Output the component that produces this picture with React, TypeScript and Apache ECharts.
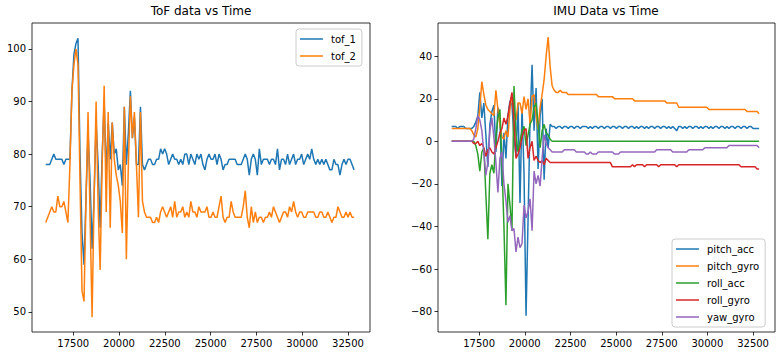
import React, { useEffect, useRef } from "react";
import * as echarts from "echarts";

const time = [
  16000, 16110, 16220, 16330, 16440, 16550, 16660, 16770, 16880, 16990,
  17100, 17210, 17320, 17430, 17540, 17650, 17760, 17870, 17980, 18090,
  18200, 18310, 18420, 18530, 18640, 18750, 18860, 18970, 19080, 19190,
  19300, 19410, 19520, 19630, 19740, 19850, 19960, 20070, 20180, 20290,
  20400, 20510, 20620, 20730, 20840, 20950, 21060, 21170, 21280, 21390,
  21500, 21610, 21720, 21830, 21940, 22050, 22160, 22270, 22380, 22490,
  22600, 22710, 22820, 22930, 23040, 23150, 23260, 23370, 23480, 23590,
  23700, 23810, 23920, 24030, 24140, 24250, 24360, 24470, 24580, 24690,
  24800, 24910, 25020, 25130, 25240, 25350, 25460, 25570, 25680, 25790,
  25900, 26010, 26120, 26230, 26340, 26450, 26560, 26670, 26780, 26890,
  27000, 27110, 27220, 27330, 27440, 27550, 27660, 27770, 27880, 27990,
  28100, 28210, 28320, 28430, 28540, 28650, 28760, 28870, 28980, 29090,
  29200, 29310, 29420, 29530, 29640, 29750, 29860, 29970, 30080, 30190,
  30300, 30410, 30520, 30630, 30740, 30850, 30960, 31070, 31180, 31290,
  31400, 31510, 31620, 31730, 31840, 31950, 32060, 32170, 32280, 32390,
  32500, 32610, 32720, 32830,
];

const tof1 = [
  78, 78, 78, 79, 80, 79, 79, 79, 79, 78,
  79, 79, 79, 92, 99, 101, 102, 80, 65, 59,
  72, 84, 75, 62, 72, 86, 78, 66, 80, 90,
  76, 86, 79, 86, 80, 81, 77, 78, 74, 89,
  78, 84, 92, 83, 87, 78, 78, 89, 78, 77,
  78, 79, 79, 78, 78, 79, 79, 81, 80, 81,
  80, 78, 79, 80, 79, 79, 78, 79, 78, 80,
  80, 78, 80, 79, 78, 80, 79, 80, 78, 77,
  79, 80, 79, 79, 80, 78, 80, 79, 77, 78,
  78, 79, 79, 79, 79, 78, 78, 78, 79, 80,
  79, 76, 79, 80, 79, 76, 81, 78, 79, 79,
  79, 78, 79, 79, 78, 81, 77, 79, 79, 78,
  80, 78, 79, 80, 78, 79, 79, 80, 78, 79,
  80, 79, 81, 79, 78, 79, 78, 79, 78, 79,
  78, 77, 77, 79, 78, 78, 76, 78, 79, 78,
  79, 79, 78, 77,
];

const tof2 = [
  67, 68, 69, 70, 69, 69, 72, 70, 70, 71,
  69, 67, 78, 92, 97, 100, 97, 75, 54, 52,
  72, 88, 68, 49, 72, 90, 70, 58, 78, 93,
  69, 88, 66, 86, 79, 76, 74, 71, 65, 89,
  60, 78, 91, 83, 88, 78, 68, 88, 71, 69,
  68, 68, 68, 67, 67, 68, 67, 69, 70, 69,
  68, 69, 70, 68, 71, 68, 69, 69, 70, 68,
  69, 68, 71, 69, 69, 68, 70, 69, 69, 69,
  70, 68, 68, 69, 68, 68, 70, 72, 68, 67,
  68, 68, 71, 69, 68, 68, 68, 68, 70, 73,
  68, 66, 70, 67, 69, 67, 68, 68, 67, 68,
  68, 69, 68, 70, 69, 68, 67, 68, 69, 69,
  68, 70, 69, 71, 69, 68, 69, 69, 68, 68,
  69, 69, 69, 69, 68, 68, 69, 69, 68, 68,
  69, 68, 67, 68, 68, 70, 69, 68, 68, 69,
  68, 69, 68, 68,
];

const pitchAcc = [
  7, 7, 7, 6, 7, 7, 7, 6, 6, 6,
  6, 7, 9, 12, 23, 11, 18, 3, -12, 8,
  14, 17, -5, 16, 10, -21, 4, -8, 12, 19,
  17, 2, -7, 18, -29, 16, -15, -82, -37, 10,
  36, 5, 25, -13, 12, 20, -18, 6, -3, 8,
  7, 7, 6, 7, 7, 6, 7, 7, 6, 7,
  7, 6, 7, 7, 6, 7, 7, 7, 6, 7,
  6, 7, 7, 6, 7, 7, 6, 7, 7, 6,
  7, 7, 6, 7, 7, 6, 7, 7, 6, 7,
  7, 6, 7, 6, 7, 7, 6, 7, 6, 7,
  7, 6, 7, 7, 6, 7, 7, 6, 7, 6,
  7, 6, 5, 7, 7, 6, 7, 6, 7, 7,
  6, 7, 7, 6, 7, 6, 7, 7, 6, 7,
  6, 7, 7, 6, 7, 7, 6, 7, 6, 7,
  7, 6, 7, 7, 6, 7, 7, 6, 7, 7,
  6, 6, 6, 6,
];

const pitchGyro = [
  6, 6, 6, 6, 6, 6, 6, 6, 6, 6,
  5, 3, 2, 6, 16, 28, 22, 17, 15, 14,
  13, 12, 24, 15, 8, 2, 1, 5, 2, 15,
  22, 14, 10, 18, 18, 13, 21, 15, 20, 8,
  21, 22, 12, 6, 16, 22, 29, 40, 49, 35,
  26, 24, 23, 23, 24, 23, 23, 23, 22, 22,
  22, 22, 22, 22, 22, 22, 22, 22, 22, 22,
  22, 22, 22, 21, 21, 21, 21, 21, 21, 21,
  21, 20, 20, 20, 20, 20, 20, 20, 20, 20,
  20, 19, 19, 19, 19, 19, 19, 19, 19, 19,
  19, 19, 19, 19, 19, 19, 19, 18, 18, 18,
  18, 18, 18, 16, 16, 16, 16, 16, 16, 16,
  16, 16, 16, 16, 16, 16, 16, 16, 15, 15,
  15, 15, 15, 15, 15, 15, 15, 15, 15, 15,
  15, 15, 15, 15, 15, 15, 15, 14, 14, 14,
  14, 14, 14, 13,
];

const rollAcc = [
  0, 0, 0, 0, 0, 0, 0, 0, 0, 0,
  0, 0, -2, -6, -14, -5, -3, -25, -46, -15,
  -11, -15, 2, 11, 15, -10, -40, -77, -20, -30,
  -42, 26, 3, -5, 0, 5, 7, -2, 3, 8,
  10, 16, 18, 8, -3, 5, 8, 4, 3, 1,
  0, 0, 0, 0, 0, 0, 0, 0, 0, 0,
  0, 0, 0, 0, 0, 0, 0, 0, 0, 0,
  0, 0, 0, 0, 0, 0, 0, 0, 0, 0,
  0, 0, 0, 0, 0, 0, 0, 0, 0, 0,
  0, 0, 0, 0, 0, 0, 0, 0, 0, 0,
  0, 0, 0, 0, 0, 0, 0, 0, 0, 0,
  0, 0, 0, 0, 0, 0, 0, 0, 0, 0,
  0, 0, 0, 0, 0, 0, 0, 0, 0, 0,
  0, 0, 0, 0, 0, 0, 0, 0, 0, 0,
  0, 0, 0, 0, 0, 0, 0, 0, 0, 0,
  0, 0, 0, 0,
];

const rollGyro = [
  0, 0, 0, 0, 0, 0, 0, 0, 0, 0,
  0, -1, -1, 0, -2, -1, -3, -7, -4, -3,
  -5, -6, -3, 0, 4, 6, 11, 8, 12, 18,
  23, 10, -8, -6, -3, 2, 5, 6, -8, -3,
  0, -9, -7, -9, -10, -9, -11, -8, -9, -10,
  -10, -10, -10, -10, -10, -10, -10, -10, -10, -10,
  -10, -10, -10, -10, -10, -10, -10, -10, -10, -10,
  -10, -10, -10, -10, -10, -10, -10, -10, -10, -10,
  -12, -12, -12, -12, -12, -12, -12, -12, -12, -12,
  -11, -12, -11, -11, -11, -11, -12, -11, -11, -11,
  -11, -11, -11, -12, -11, -11, -11, -11, -11, -11,
  -11, -11, -12, -11, -11, -11, -11, -11, -11, -11,
  -11, -11, -11, -11, -11, -11, -11, -11, -11, -11,
  -11, -11, -11, -11, -11, -11, -11, -11, -11, -11,
  -11, -11, -11, -11, -12, -12, -12, -12, -12, -12,
  -12, -12, -13, -13,
];

const yawGyro = [
  0, 0, 0, 0, 0, 0, 0, 0, 0, 0,
  0, 1, 6, 12, 10, 5, -5, -16, -10, 5,
  11, 2, -10, -24, -8, -5, -20, -28, -38, -35,
  -42, -41, -52, -45, -50, -48, -30, -36, -33, -27,
  -42, -14, -20, -16, -21, -8, 3, -1, -3, -4,
  -5, -5, -5, -5, -5, -5, -4, -4, -4, -4,
  -4, -4, -5, -5, -5, -5, -5, -6, -6, -5,
  -6, -6, -6, -5, -5, -5, -5, -5, -5, -5,
  -5, -6, -6, -6, -5, -5, -5, -5, -5, -5,
  -5, -5, -5, -5, -5, -5, -5, -5, -5, -5,
  -5, -5, -4, -4, -4, -4, -4, -4, -4, -4,
  -5, -5, -5, -5, -5, -5, -5, -5, -4, -4,
  -4, -4, -4, -4, -4, -4, -3, -3, -3, -3,
  -3, -3, -3, -3, -3, -3, -3, -3, -2, -2,
  -2, -2, -2, -2, -2, -2, -2, -2, -2, -2,
  -2, -2, -2, -3,
];

const xTicks = [17500, 20000, 22500, 25000, 27500, 30000, 32500];
const tofTicks = [50, 60, 70, 80, 90, 100];
const imuTicks = [-80, -60, -40, -20, 0, 20, 40];

const tofNames = ["tof_1", "tof_2"];
const imuNames = ["pitch_acc", "pitch_gyro", "roll_acc", "roll_gyro", "yaw_gyro"];
const COLORS = ["#1f77b4", "#ff7f0e", "#2ca02c", "#d62728", "#9467bd"];
const FONT = "DejaVu Sans";

function pairs(ys: number[]) {
  return time.map((t, i) => [t, ys[i]]);
}

const fmt = (v: number) => String(v).replace("-", "\u2212");

function xAxis(gridIndex: number) {
  return {
    type: "value",
    gridIndex,
    min: 15250,
    max: 33700,
    axisLine: { show: false, onZero: false },
    splitLine: { show: false },
    axisTick: {
      show: true,
      length: 3.5,
      customValues: xTicks,
      lineStyle: { color: "#000", width: 0.8 },
    },
    axisLabel: {
      customValues: xTicks,
      formatter: fmt,
      fontFamily: FONT,
      fontSize: 10,
      color: "#000",
      margin: 6,
    },
  };
}

function yAxis(gridIndex: number, min: number, max: number, ticks: number[]) {
  return {
    type: "value",
    gridIndex,
    min,
    max,
    axisLine: { show: false, onZero: false },
    splitLine: { show: false },
    axisTick: {
      show: true,
      length: 3.5,
      customValues: ticks,
      lineStyle: { color: "#000", width: 0.8 },
    },
    axisLabel: {
      customValues: ticks,
      formatter: fmt,
      fontFamily: FONT,
      fontSize: 10,
      color: "#000",
      margin: 6,
    },
  };
}

function legend(names: string[], left: number, top: number) {
  return {
    data: names,
    orient: "vertical",
    left,
    top,
    padding: [3, 6, 3, 4],
    itemGap: 3,
    itemWidth: 23,
    itemHeight: 1.5,
    icon: "rect",
    selectedMode: false,
    backgroundColor: "rgba(255,255,255,0.8)",
    borderColor: "#cccccc",
    borderWidth: 1,
    borderRadius: 3,
    textStyle: {
      fontFamily: FONT,
      fontSize: 10,
      color: "#000",
      lineHeight: 14,
      padding: [0, 0, 0, 3],
    },
  };
}

export default function App() {
  const ref = useRef<HTMLDivElement>(null);

  useEffect(() => {
    if (!ref.current) return;
    const chart = echarts.init(ref.current, undefined, { renderer: "svg" });
    const tofSeries = [tof1, tof2].map((ys, k) => ({
      name: tofNames[k],
      type: "line",
      xAxisIndex: 0,
      yAxisIndex: 0,
      data: pairs(ys),
      symbol: "none",
      showSymbol: false,
      color: COLORS[k],
      lineStyle: { width: 1.5, color: COLORS[k] },
    }));
    const imuSeries = [pitchAcc, pitchGyro, rollAcc, rollGyro, yawGyro].map((ys, k) => ({
      name: imuNames[k],
      type: "line",
      xAxisIndex: 1,
      yAxisIndex: 1,
      data: pairs(ys),
      symbol: "none",
      showSymbol: false,
      color: COLORS[k],
      lineStyle: { width: 1.5, color: COLORS[k] },
    }));
    chart.setOption({
      animation: false,
      backgroundColor: "#ffffff",
      textStyle: { fontFamily: FONT },
      title: [
        {
          text: "ToF data vs Time",
          left: 201,
          top: 5,
          textAlign: "center",
          padding: 0,
          textStyle: { fontFamily: FONT, fontSize: 12, fontWeight: "normal", color: "#000" },
        },
        {
          text: "IMU Data vs Time",
          left: 606,
          top: 5,
          textAlign: "center",
          padding: 0,
          textStyle: { fontFamily: FONT, fontSize: 12, fontWeight: "normal", color: "#000" },
        },
      ],
      grid: [
        { left: 32, top: 23, width: 338, height: 309, show: true, borderColor: "#000", borderWidth: 0.8, backgroundColor: "transparent" },
        { left: 438, top: 23, width: 337, height: 309, show: true, borderColor: "#000", borderWidth: 0.8, backgroundColor: "transparent" },
      ],
      xAxis: [xAxis(0), xAxis(1)],
      yAxis: [yAxis(0, 46.2, 104.9, tofTicks), yAxis(1, -89.6, 55.6, imuTicks)],
      legend: [legend(tofNames, 296, 29), legend(imuNames, 672, 239)],
      series: [...tofSeries, ...imuSeries],
    });
    return () => chart.dispose();
  }, []);

  return (
    <div
      ref={ref}
      style={{ position: "fixed", left: 0, top: 0, width: 784, height: 355, background: "#fff" }}
    />
  );
}
